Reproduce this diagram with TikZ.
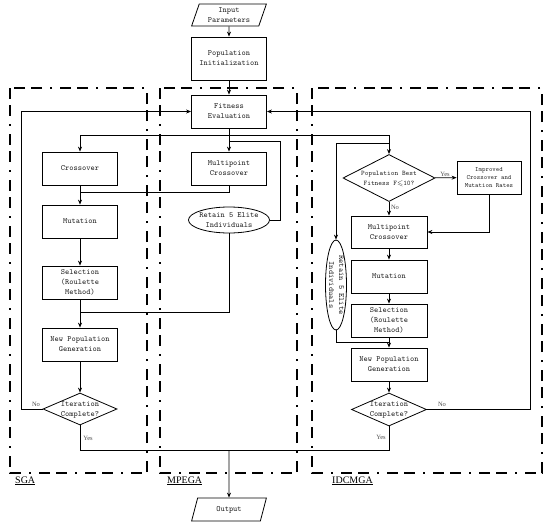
\documentclass[tikz,border=0pt]{standalone}
\usepackage{fontspec}
\setmainfont{Liberation Serif}
\usepackage{amssymb}
\usetikzlibrary{shapes.geometric,arrows.meta}
\newcommand\zbox[1]{\makebox[0pt]{\smash{\raisebox{-2pt}{\begin{tabular}{@{}c@{}}#1\end{tabular}}}}}
\begin{document}
\begin{tikzpicture}[x=1pt,y=-1pt,
  box/.style={draw, fill=white, line width=0.8pt, inner sep=0pt, minimum width=75pt, minimum height=33pt, align=center, font=\fontsize{8}{10}\selectfont\ttfamily, text=black!85},
  para/.style={box, trapezium, trapezium left angle=70, trapezium right angle=110, trapezium stretches=true, minimum height=22pt},
  dia/.style={box, diamond},
  ell/.style={box, ellipse},
  frame/.style={line width=1.6pt, dash pattern=on 11pt off 6pt on 11pt off 8pt on 2pt off 8pt},
  arr/.style={-{Stealth[length=5pt,width=4pt]}, line width=0.8pt},
  ln/.style={line width=0.8pt},
  lab/.style={font=\fontsize{6.5}{7}\selectfont, text=black!70, inner sep=0pt},
  ttl/.style={font=\fontsize{10}{12}\selectfont, anchor=base west, inner sep=0pt}]
\useasboundingbox (0,0) rectangle (550,528);
% frames
\draw[frame] (10,88) rectangle (147,473);
\draw[frame] (160,88) rectangle (297,473);
\draw[frame] (312,88) rectangle (542,473);
\node[ttl] (tsga) at (15,483) {\underline{SGA}};
\node[ttl] (tmp) at (167,483) {\underline{MPEGA}};
\node[ttl] (tid) at (332,483) {\underline{IDCMGA}};
% common
\node[para] (in) at (229,15) {Input\\Parameters};
\node[box, minimum height=43pt] (init) at (229,58.5) {Population\\Initialization};
\node[box] (fit) at (229,111.5) {Fitness\\Evaluation};
% SGA
\node[box] (cx1) at (80,168.5) {Crossover};
\node[box] (mu1) at (80,221.5) {Mutation};
\node[box] (se1) at (80,282.5) {Selection\\(Roulette\\Method)};
\node[box] (np1) at (80,344.5) {New Population\\Generation};
\node[dia, minimum width=74pt, minimum height=32pt] (it1) at (80,409) {\zbox{Iteration\\Complete?}};
% MPEGA
\node[box] (mc2) at (229,168.5) {Multipoint\\Crossover};
\node[ell, minimum width=81pt, minimum height=26pt] (el2) at (229,220) {\zbox{Retain 5 Elite\\Individuals}};
% IDCMGA
\node[dia, minimum width=92pt, minimum height=47pt, font=\fontsize{7}{10}\selectfont\ttfamily] (d3) at (389,178) {\zbox{Population Best\\Fitness F$\leqslant$10?}};
\node[box, minimum width=64pt, font=\fontsize{6.5}{8}\selectfont\ttfamily] (imp) at (489,177.5) {Improved\\Crossover and\\Mutation Rates};
\node[box, minimum width=76pt, minimum height=32pt] (mc3) at (389,232) {Multipoint\\Crossover};
\node[box, minimum width=76pt] (mu3) at (389,276.5) {Mutation};
\node[box, minimum width=76pt] (se3) at (389,320.5) {Selection\\(Roulette\\Method)};
\node[box, minimum width=76pt] (np3) at (389,364.5) {New Population\\Generation};
\node[dia, minimum width=75pt, minimum height=33pt] (it3) at (389,409.5) {\zbox{Iteration\\Complete?}};
\node[ell, rotate=-90, minimum width=90pt, minimum height=21pt] (el3) at (336,285) {\zbox{Retain 5 Elite\\Individuals}};
\node[para, minimum height=23pt] (out) at (229,509.5) {Output};
% coordinates
\coordinate (b1) at (80,135);
\coordinate (b2) at (389,135);
\coordinate (e1) at (229,141);
\coordinate (e3) at (389,143);
\coordinate (m1) at (80,192);
\coordinate (m2) at (80,312);
\coordinate (j3) at (389,342);
\coordinate (y3) at (389,450);
\coordinate (yo) at (229,450);
% connectors
\draw[arr] (in) -- (init);
\draw[arr] (init) -- (fit);
\draw[arr] (fit) -- (mc2);
\draw[ln] (b1) -- (b2);
\draw[arr] (b1) -- (cx1);
\draw[arr] (b2) -- (d3);
\draw[arr] (cx1) -- (mu1);
\draw[arr] (mu1) -- (se1);
\draw[arr] (se1) -- (np1);
\draw[arr] (np1) -- (it1);
\draw[ln] (e1) -- ++(51,0) |- (el2.east);
\draw[ln] (mc2.south) |- (m1);
\draw[ln] (el2.south) |- (m2);
\draw[arr] (it1.west) -- ++(-21,0) |- (fit.west);
\draw[arr] (it3.east) -- ++(103,0) |- (fit.east);
\draw[ln] (it1.south) |- (y3) -- (it3.south);
\draw[arr] (yo) -- (out);
\draw[arr] (d3) -- (imp);
\draw[arr] (d3) -- (mc3);
\draw[arr] (imp.south) |- (mc3.east);
\draw[arr] (e3) -| (el3.west);
\draw[arr] (mc3) -- (mu3);
\draw[arr] (mu3) -- (se3);
\draw[arr] (se3) -- (np3);
\draw[arr] (np3) -- (it3);
\draw[ln] (el3.east) |- (j3);
% labels
\node[lab] (l1) at (36,404) {No};
\node[lab] (l2) at (88,438) {Yes};
\node[lab] (l3) at (445,174) {Yes};
\node[lab] (l4) at (395,207) {No};
\node[lab] (l5) at (442,404) {No};
\node[lab] (l6) at (381,437) {Yes};
\end{tikzpicture}
\end{document}
